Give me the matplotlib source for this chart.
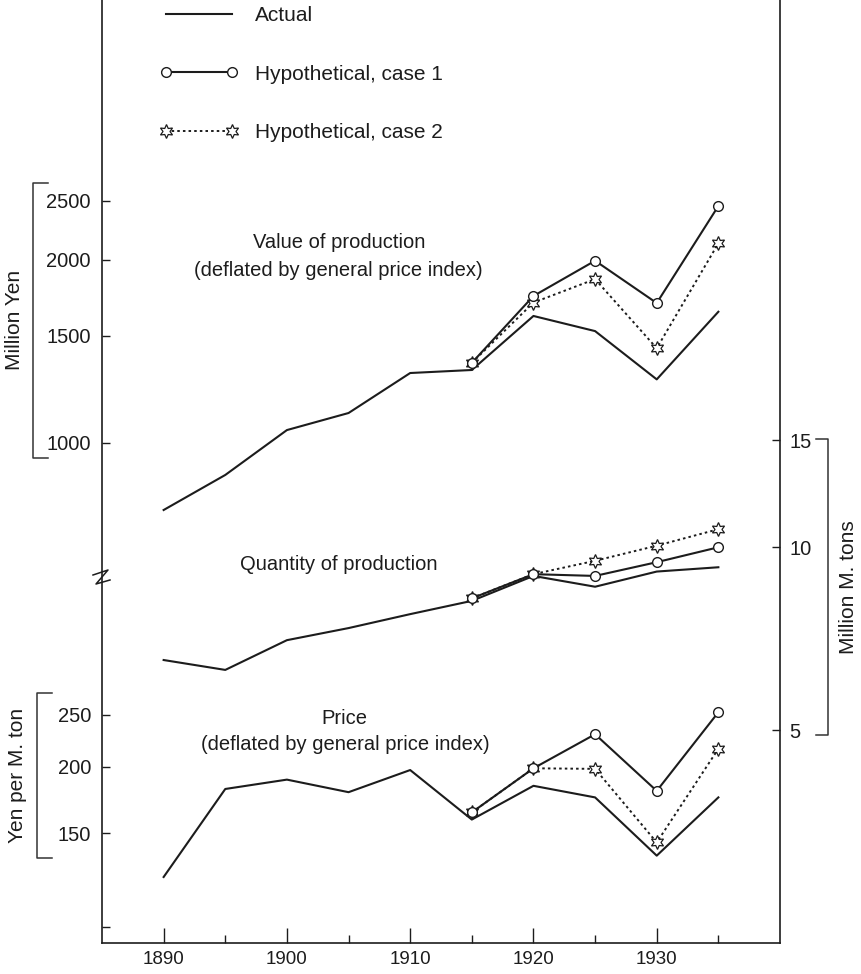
import matplotlib.pyplot as plt
from matplotlib.lines import Line2D
from matplotlib.ticker import NullLocator

plt.rcParams['font.family'] = ['Liberation Sans', 'DejaVu Sans']

# data
years = [1890, 1895, 1900, 1905, 1910, 1915, 1920, 1925, 1930, 1935]
hyp_years = [1915, 1920, 1925, 1930, 1935]

value_actual = [775, 885, 1049, 1119, 1302, 1317, 1616, 1526, 1271, 1642]
value_case1 = [1353, 1743, 1992, 1697, 2451]
value_case2 = [1353, 1700, 1858, 1430, 2128]

qty_actual = [6.52, 6.28, 7.03, 7.36, 7.76, 8.16, 8.97, 8.61, 9.12, 9.27]
qty_case1 = [8.24, 9.03, 8.97, 9.45, 10.0]
qty_case2 = [8.24, 9.03, 9.50, 10.06, 10.71]

price_actual = [124, 181.5, 189, 179, 197, 159, 184, 175, 136, 175]
price_case1 = [164, 198.5, 230, 180, 253]
price_case2 = [164, 198.5, 198, 144, 216]

value_ticks = [1000, 1500, 2000, 2500]
qty_ticks = [5, 10, 15]
price_ticks = [100, 150, 200, 250]

W, H = 861, 974
ink = '#1c1c1c'

fig = plt.figure(figsize=(W / 100, H / 100), dpi=100)

# plot box in pixels
left, right, bottom, top = 102, 780, 943, 0


def px(x, y):
    return x / W, 1 - y / H


def log_lims(ref_val, ref_px, px_per_dec):
    lo = ref_val * 10 ** (-(bottom - ref_px) / px_per_dec)
    hi = ref_val * 10 ** ((ref_px - top) / px_per_dec)
    return lo, hi


ax_v = fig.add_axes([left / W, 1 - bottom / H, (right - left) / W, (bottom - top) / H])
ax_q = ax_v.twinx()
ax_p = ax_v.twinx()

for ax in (ax_v, ax_q, ax_p):
    ax.set_yscale('log')
    for s in ax.spines.values():
        s.set_visible(False)
        s.set_color(ink)
        s.set_linewidth(1.2)

ax_v.set_ylim(log_lims(1000, 442.7, 608))
ax_q.set_ylim(log_lims(5, 730, 607))
ax_p.set_ylim(log_lims(100, 926.7, 532))

ax_v.spines['left'].set_visible(True)
ax_v.spines['bottom'].set_visible(True)
ax_q.spines['right'].set_visible(True)

ax_v.set_xlim(1885, 1940)
ax_v.set_xticks([1890, 1900, 1910, 1920, 1930])
ax_v.set_xticks([1895, 1905, 1915, 1925, 1935], minor=True)
ax_v.tick_params(axis='x', which='major', direction='in', length=11, width=1,
                 color=ink, labelsize=13.5, pad=6, labelcolor=ink)
ax_v.tick_params(axis='x', which='minor', direction='in', length=5.5, width=1, color=ink)

ax_v.set_yticks(value_ticks, labels=[str(v) for v in value_ticks])
ax_q.set_yticks(qty_ticks, labels=[str(v) for v in qty_ticks])
ax_p.yaxis.tick_left()
ax_p.set_yticks(price_ticks, labels=['' if v == 100 else str(v) for v in price_ticks])
for ax in (ax_v, ax_q, ax_p):
    ax.yaxis.set_minor_locator(NullLocator())
    ax.tick_params(axis='y', which='major', direction='in', length=6, width=1,
                   color=ink, labelsize=14.5, pad=8, labelcolor=ink)
ax_q.tick_params(axis='y', pad=7)

# series
for ax, act, c1, c2 in [(ax_v, value_actual, value_case1, value_case2),
                        (ax_q, qty_actual, qty_case1, qty_case2),
                        (ax_p, price_actual, price_case1, price_case2)]:
    ax.plot(years, act, color=ink, lw=1.5)
    ax.plot(hyp_years, c2, color=ink, lw=1.4, ls=(0, (1.3, 1.6)),
            marker=(6, 1, 0), ms=10, mfc='white', mec=ink, mew=0.9)
    ax.plot(hyp_years, c1, color=ink, lw=1.5, marker='o', ms=7,
            mfc='white', mec=ink, mew=1)

# legend
handles = [
    Line2D([], [], color=ink, lw=1.5),
    Line2D([], [], color=ink, lw=1.5, marker='o', ms=7, mfc='white', mec=ink, mew=1),
    Line2D([], [], color=ink, lw=1.4, ls=(0, (1.3, 1.6)), marker=(6, 1, 0), ms=10,
           mfc='white', mec=ink, mew=0.9),
]
fig.legend(handles, ['Actual', 'Hypothetical, case 1', 'Hypothetical, case 2'],
           loc='upper left', bbox_to_anchor=px(160, 6), bbox_transform=fig.transFigure,
           frameon=False, numpoints=2, fontsize=15, handlelength=3.75,
           handletextpad=0.8, labelspacing=1.9, borderpad=0, borderaxespad=0,
           labelcolor=ink)

# panel titles
tkw = dict(ha='center', va='center', fontsize=14.5, color=ink)
fig.text(*px(339, 243), 'Value of production', **tkw)
fig.text(*px(338, 270), '(deflated by general price index)', **tkw)
fig.text(*px(339, 565), 'Quantity of production', **tkw)
fig.text(*px(344, 718), 'Price', **tkw)
fig.text(*px(345, 745), '(deflated by general price index)', **tkw)

# axis unit labels
lkw = dict(ha='center', va='center', fontsize=15, color=ink, rotation=90)
fig.text(*px(15, 320), 'Million Yen', **lkw)
fig.text(*px(18, 775), 'Yen per M. ton', **lkw)
fig.text(*px(848, 587), 'Million M. tons', **lkw)


def bracket(x, y0, y1, x_end):
    xs = [x_end, x, x, x_end]
    ys = [y0, y0, y1, y1]
    pts = [px(a, b) for a, b in zip(xs, ys)]
    fig.add_artist(Line2D([p[0] for p in pts], [p[1] for p in pts],
                          transform=fig.transFigure, color='#333333', lw=1.1))


bracket(33, 183, 458, 48)
bracket(37, 693, 858, 52)
bracket(828, 439, 735, 816)

# axis break mark on the left spine
zpts = [px(93, 575), px(108, 570), px(96, 584), px(110, 580)]
fig.add_artist(Line2D([p[0] for p in zpts], [p[1] for p in zpts],
                      transform=fig.transFigure, color=ink, lw=1.1))

fig.savefig('out.png', dpi=100)
